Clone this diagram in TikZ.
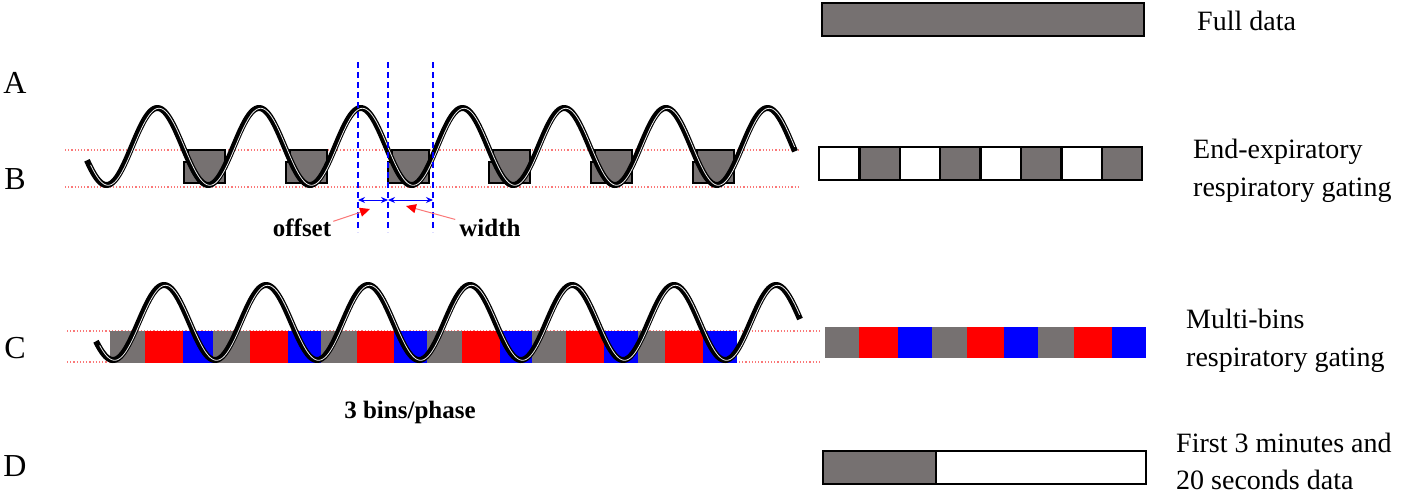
\documentclass[tikz,border=0pt]{standalone}
\usepackage{fontspec}
\setmainfont{Liberation Serif}
\usetikzlibrary{arrows.meta}
\definecolor{dgray}{RGB}{118,113,113}
\definecolor{dotred}{RGB}{250,120,120}
\tikzset{
  wave/.style={line width=6pt, black},
  wavein/.style={line width=0.8pt, white!85!gray},
  refline/.style={dotred, dotted, line width=1.2pt},
  gatebox/.style={fill=dgray, draw=black, line width=2pt},
  cell/.style={draw=black, line width=2.5pt},
  vdash/.style={blue, line width=1.5pt, dash pattern=on 6pt off 4pt},
  dim/.style={blue, line width=1pt, {Stealth[length=7pt,width=6pt]}-{Stealth[length=7pt,width=6pt]}},
  pointer/.style={dotred, line width=1pt, -{Triangle[red,fill=red,length=10pt,width=9pt]}},
  letter/.style={font=\fontsize{32}{36}\selectfont, anchor=base},
  desc/.style={font=\fontsize{28}{32}\selectfont, anchor=base west, inner sep=0pt},
  blabel/.style={font=\bfseries\fontsize{25}{30}\selectfont, anchor=base, inner sep=0pt}
}
\begin{document}
\begin{tikzpicture}[x=1pt,y=-1pt]
\path[use as bounding box] (0,0) rectangle (1416,493);

% row letters
\node[letter] (la) at (15,93) {A};
\node[letter] (lb) at (15,189) {B};
\node[letter] (lc) at (15,358) {C};
\node[letter] (ld) at (15,476) {D};

% ---------- A ----------
\draw[cell, fill=dgray] (822,3) rectangle (1144,36);
\node[desc] (ta) at (1197,30) {Full data};

% ---------- B ----------
\draw[refline] (65,150) -- (798,150);
\draw[refline] (65,187) -- (798,187);
\foreach \t in {208.2,309.9,411.6,513.3,615,716.7}{
  \draw[gatebox] (\t-20,150) -- (\t+17,150) -- (\t+17,183) -- (\t-24,183) -- (\t-24,162) -- (\t-20,162) -- cycle;
}
\draw[wave] plot[domain=87:795, samples=500] (\x,{146.5+38.5*cos((\x-106.5)*3.53982)});
\draw[wavein] plot[domain=89:793, samples=500] (\x+1.6,{146.8+38.5*cos((\x-106.5)*3.53982)});

\coordinate (v1t) at (358,62); \coordinate (v1b) at (358,232);
\coordinate (v2t) at (388,62); \coordinate (v2b) at (388,232);
\coordinate (v3t) at (433,62); \coordinate (v3b) at (433,232);
\draw[vdash] (v1t) -- (v1b);
\draw[vdash] (v2t) -- (v2b);
\draw[vdash] (v3t) -- (v3b);
\coordinate (d1) at (358,200); \coordinate (d2) at (388,200); \coordinate (d3) at (433,200);
\draw[dim] (d1) -- (d2);
\draw[dim] (d2) -- (d3);

\node[blabel] (off) at (302,236) {offset};
\node[blabel] (wid) at (490,236) {width};
\coordinate (offtip) at (370,209);
\coordinate (widtip) at (406,206);
\draw[pointer] (off.east) ++(2,-6) -- (offtip);
\draw[pointer] (wid.west) ++(-4,-8) -- (widtip);

\foreach \i/\f in {0/white,1/dgray,2/white,3/dgray,4/white,5/dgray,6/white,7/dgray}{
  \draw[cell, fill=\f] ({819+\i*40.4},147) rectangle ({819+(\i+1)*40.4},180);
}
\node[desc] (tb1) at (1193,158) {End-expiratory};
\node[desc] (tb2) at (1193,196) {respiratory gating};

% ---------- C ----------
\draw[refline] (67,331) -- (820,331);
\draw[refline] (67,362) -- (820,362);
\foreach \a/\b/\c in {110/145/dgray,145/183/red,183/213/blue,
                      213/250/dgray,250/288/red,288/321/blue,
                      321/357/dgray,357/394/red,394/427/blue,
                      427/462/dgray,462/500/red,500/532/blue,
                      532/566/dgray,566/604/red,604/638/blue,
                      638/665/dgray,665/703/red,703/737/blue}{
  \fill[\c] (\a,331) rectangle (\b,363);
}
\draw[wave] plot[domain=96:800, samples=500] (\x,{322.5+37.5*cos((\x-113)*3.52941)});
\draw[wavein] plot[domain=98:798, samples=500] (\x+1.6,{322.8+37.5*cos((\x-113)*3.52941)});
\node[blabel] (bins) at (410,418) {3 bins/phase};

\foreach \a/\b/\c in {825/859/dgray,859/898/red,898/932/blue,
                      932/967/dgray,967/1004/red,1004/1038/blue,
                      1038/1074/dgray,1074/1112/red,1112/1146/blue}{
  \fill[\c] (\a,327) rectangle (\b,358);
}
\node[desc] (tc1) at (1186,328) {Multi-bins};
\node[desc] (tc2) at (1186,366) {respiratory gating};

% ---------- D ----------
\draw[cell, fill=dgray] (823,451) rectangle (936,484);
\draw[cell, fill=white] (936,451) rectangle (1146,484);
\node[desc] (td1) at (1176,452) {First 3 minutes and};
\node[desc] (td2) at (1176,489) {20 seconds data};
\end{tikzpicture}
\end{document}
